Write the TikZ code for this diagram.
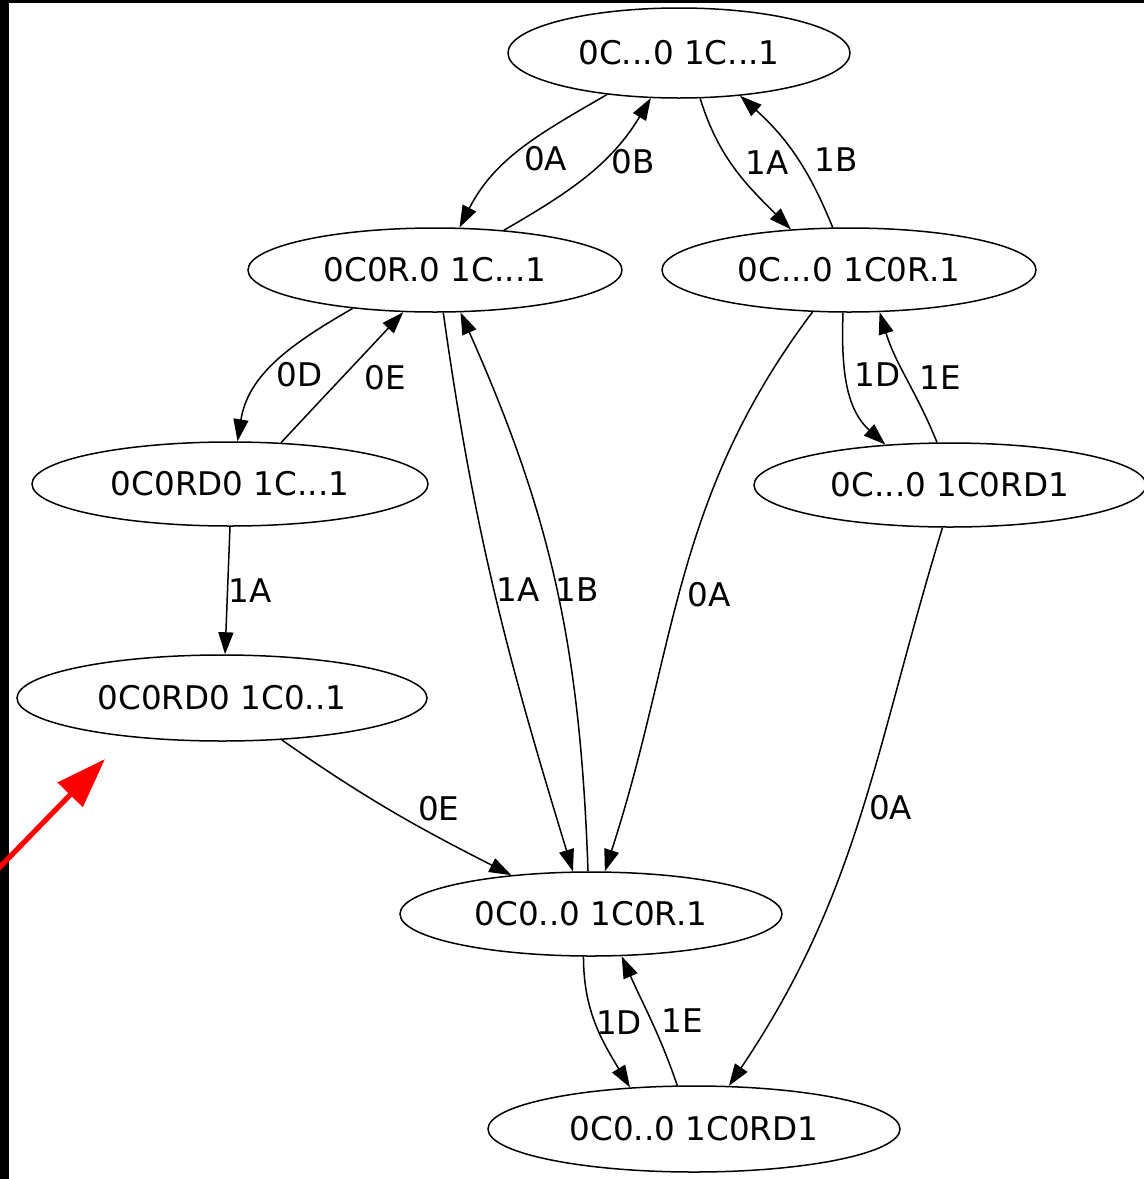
\documentclass[tikz,border=0pt]{standalone}
\usepackage{fontspec}
\setmainfont{DejaVu Sans}
\usetikzlibrary{shapes.geometric, arrows.meta}

\tikzset{
  cfg/.style={ellipse, draw, line width=0.75pt, inner sep=0pt},
  lbl/.style={anchor=west, inner sep=2pt, pos=0.5},
  arr/.style={-{Triangle[length=11pt,width=7.5pt]}, line width=0.75pt}
}

\begin{document}
\begin{tikzpicture} [x=0.5pt, y=-0.5pt, font=\fontsize{16.3}{19}\selectfont]
    \useasboundingbox (0,0) rectangle (1144,1179);
    \fill [black] (0,0) rectangle (9,1179);
    \fill [black] (0,0) rectangle (1144,3);

    \node (S0) [cfg, minimum width=171pt, minimum height=45pt] at (679,53)  {0C...0 1C...1};
    \node (S1) [cfg, minimum width=187pt, minimum height=42pt] at (435,270) {0C0R.0 1C...1};
    \node (S2) [cfg, minimum width=187pt, minimum height=42pt] at (849,270) {0C...0 1C0R.1};
    \node (S3) [cfg, minimum width=198pt, minimum height=42pt] at (230,484) {0C0RD0 1C...1};
    \node (S4) [cfg, minimum width=196pt, minimum height=42pt] at (950,485) {0C...0 1C0RD1};
    \node (S5) [cfg, minimum width=205pt, minimum height=43pt] at (222,698) {0C0RD0 1C0..1};
    \node (S6) [cfg, minimum width=191pt, minimum height=42pt] at (591,914) {0C0..0 1C0R.1};
    \node (S7) [cfg, minimum width=206pt, minimum height=43pt] at (694,1129) {0C0..0 1C0RD1};

    \path [arr] (S0.210) edge [out=210, in=63]  node [lbl, pos=0.57, xshift=4pt] {0A} (S1.60);
    \path [arr] (S1.30)  edge [out=30, in=239]  node [lbl, pos=0.6, xshift=3pt] {0B} (S0.238);
    \path [arr] (S0.295) edge [out=287, in=135] node [lbl, pos=0.44, xshift=5pt] {1A} (S2.145);
    \path [arr] (S2.111) edge [out=112, in=318] node [lbl, pos=0.47, xshift=6pt] {1B} (S0.325);
    \path [arr] (S1.205) edge [out=210, in=81]  node [lbl, pos=0.6, xshift=3pt] {0D} (S3.80);
    \path [arr] (S3.39)  edge [out=47, in=227]  node [lbl, xshift=9pt] {0E} (S1.233);
    \path [arr] (S1.281) edge [out=278, in=107] node [lbl, pos=0.49, xshift=-1pt] {1A} (S6.113);
    \path [arr] (S6.94)  edge [out=92, in=294]  node [lbl, pos=0.49, xshift=-3pt] {1B} (S1.301);
    \path [arr] (S2.229) edge [out=233, in=72]  node [lbl, pos=0.53, xshift=2pt] {0A} (S6.72);
    \path [arr] (S2.262) edge [out=268, in=138] node [lbl, pos=0.42, xshift=2pt] {1D} (S4.148);
    \path [arr] (S4.107) edge [out=112, in=287] node [lbl, xshift=4pt] {1E} (S2.306);
    \path [arr] (S3.270) edge node [lbl, xshift=-2pt] {1A} (S5.86);
    \path [arr] (S5.325) edge [out=325, in=153] node [lbl, pos=0.47, xshift=13pt] {0E} (S6.154);
    \path [arr] (S4.260) edge [out=253, in=56]  node [lbl, pos=0.48, xshift=1pt] {0A} (S7.51);
    \path [arr] (S6.260) edge [out=270, in=121] node [lbl, pos=0.48, xshift=-2pt] {1D} (S7.147);
    \path [arr] (S7.111) edge [out=109, in=294] node [lbl, xshift=3pt] {1E} (S6.306);

    % pointer
    \coordinate (rtail) at (-3,870);
    \coordinate (rtip) at (105,759);
    \draw [red, line width=2.6pt, -{Triangle[length=25pt,width=17pt]}] (rtail) -- (rtip);
\end{tikzpicture}
\end{document}
